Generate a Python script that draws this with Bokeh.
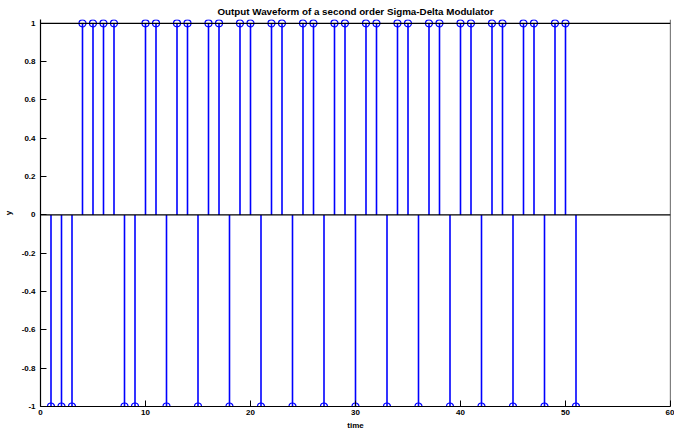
from bokeh.plotting import figure
from bokeh.models import Range1d, FixedTicker, Span, ColumnDataSource
from bokeh.embed import file_html
from bokeh.resources import INLINE

# ---- data ----
sample_n = list(range(1, 52))
output_y = [-1, -1, -1, 1, 1, 1, 1, -1, -1,
            1, 1, -1, 1, 1, -1, 1, 1, -1, 1, 1, -1, 1, 1, -1,
            1, 1, -1, 1, 1, -1, 1, 1, -1, 1, 1, -1, 1, 1, -1,
            1, 1, -1, 1, 1, -1, 1, 1, -1, 1, 1, -1]
baseline_y = [0] * len(sample_n)

x_ticks = [0, 10, 20, 30, 40, 50, 60]
x_tick_labels = ["0", "10", "20", "30", "40", "50", "60"]
y_ticks = [-1, -0.8, -0.6, -0.4, -0.2, 0, 0.2, 0.4, 0.6, 0.8, 1]
y_tick_labels = ["-1", "-0.8", "-0.6", "-0.4", "-0.2", "0", "0.2", "0.4", "0.6", "0.8", "1"]

title_text = "Output Waveform of a second order Sigma-Delta Modulator"
x_label = "time"
y_label = "y"

FONT = "Liberation Sans"
BLUE = "#0000ff"

src = ColumnDataSource(dict(n=sample_n, y=output_y, b=baseline_y))

p = figure(frame_width=630, frame_height=387,
           x_range=Range1d(0, 60), y_range=Range1d(-1, 1.02),
           output_backend="svg", toolbar_location=None, title=title_text,
           min_border_left=33, min_border_right=4, min_border_top=0, min_border_bottom=0)
p.grid.visible = False
p.outline_line_color = None
p.background_fill_color = "white"
p.border_fill_color = "white"

p.title.text_font = FONT
p.title.text_font_size = "9.8px"
p.title.text_font_style = "bold"
p.title.text_color = "black"
p.title.align = "center"
p.title.standoff = 6
p.title.offset = 0

# stems
p.segment(x0="n", y0="b", x1="n", y1="y", source=src, line_color=BLUE, line_width=1.6)
p.scatter(x="n", y="y", source=src, marker="circle", size=7, fill_color=None,
          line_color=BLUE, line_width=1.2)

# baseline and box lines
p.add_layout(Span(location=0, dimension="width", line_color="black", line_width=1.2))
p.add_layout(Span(location=1, dimension="width", line_color="black", line_width=1.2))
p.add_layout(Span(location=60, dimension="height", line_color="black", line_width=1.2))

def style_axis(ax, ticks, labels):
    ax.ticker = FixedTicker(ticks=ticks)
    ax.major_label_overrides = {t: l for t, l in zip(ticks, labels)}
    ax.major_tick_in = 6
    ax.major_tick_out = 0
    ax.minor_tick_in = 0
    ax.minor_tick_out = 0
    ax.axis_line_color = "black"
    ax.axis_line_width = 1.2
    ax.major_tick_line_color = "black"
    ax.major_label_text_font = FONT
    ax.major_label_text_font_style = "bold"
    ax.major_label_text_color = "black"
    ax.major_label_text_font_size = "8px"
    ax.axis_label_text_font = FONT
    ax.axis_label_text_font_style = "bold"
    ax.axis_label_text_font_size = "8px"
    ax.axis_label_text_color = "black"

style_axis(p.xaxis[0], x_ticks, x_tick_labels)
p.xaxis[0].axis_label = x_label
p.xaxis[0].major_label_standoff = 3
p.xaxis[0].axis_label_standoff = 3
style_axis(p.yaxis[0], y_ticks, y_tick_labels)
p.yaxis[0].axis_label = y_label
p.yaxis[0].major_label_standoff = 5
p.yaxis[0].axis_label_standoff = 6

open("out.html", "w").write(file_html(p, INLINE))
